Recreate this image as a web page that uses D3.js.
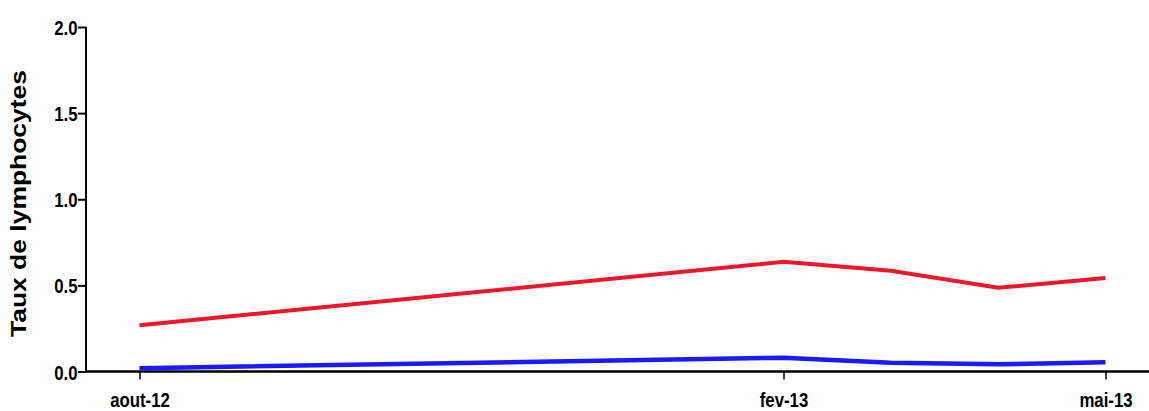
<!DOCTYPE html>
<html><head><meta charset="utf-8">
<script src="https://cdn.jsdelivr.net/npm/d3@7"></script>
<style>
body{margin:0;background:#fff;}
svg{display:block;}
.tick text{font-family:"Liberation Sans",Arial,sans-serif;font-weight:bold;font-size:21px;fill:#000;}
</style></head>
<body>
<svg id="c" width="1149" height="411"></svg>
<script>
const months = ["aout-12","fev-13","mars-13","avr-13","mai-13"];
const monthIndex = [0,6,7,8,9];
const redValues = [0.268,0.637,0.585,0.486,0.543];
const blueValues = [0.019,0.080,0.051,0.042,0.053];
const xTickIndex = [0,6,9];
const xTickLabels = ["aout-12","fev-13","mai-13"];
const yTicks = [0,0.5,1.0,1.5,2.0];

const svg = d3.select("#c");
const x = d3.scaleLinear().domain([0,9]).range([139.5,1105.5]);
const y = d3.scaleLinear().domain([0,2]).range([371.5,27]);
const sx = 0.8;

// x axis
const xAxis = svg.append("g").attr("transform","translate(0,371.5)")
  .call(d3.axisBottom(x).tickValues(xTickIndex).tickFormat((d,i)=>xTickLabels[i]).tickSize(8).tickSizeOuter(0).tickPadding(4));
xAxis.select(".domain").attr("d","M86,0H1149").attr("stroke","#000").attr("stroke-width",2.5);
xAxis.selectAll(".tick line").attr("stroke","#000").attr("stroke-width",1.5);
xAxis.selectAll(".tick text").attr("transform",`scale(${sx},1)`).attr("y",21);

// y axis
const yAxis = svg.append("g").attr("transform","translate(86,0)")
  .call(d3.axisLeft(y).tickValues(yTicks).tickFormat(d3.format(".1f")).tickSize(8).tickSizeOuter(0).tickPadding(1));
yAxis.select(".domain").attr("d","M0,27V372.5").attr("stroke","#000").attr("stroke-width",2);
yAxis.selectAll(".tick line").attr("stroke","#000").attr("stroke-width",2);
yAxis.selectAll(".tick text").attr("x",-8.5/sx).attr("transform",`scale(${sx},1)`).attr("dy","0.36em");

// y title
svg.append("text")
  .attr("transform","translate(26,203.5) rotate(-90)")
  .attr("text-anchor","middle")
  .style("font-family","'Liberation Sans',Arial,sans-serif")
  .style("font-weight","bold")
  .style("font-size","21.5px")
  .attr("textLength",267)
  .attr("lengthAdjust","spacingAndGlyphs")
  .text("Taux de lymphocytes");

const line = d3.line().x(d=>x(d[0])).y(d=>y(d[1]));
svg.append("path").datum(monthIndex.map((m,i)=>[m,redValues[i]]))
  .attr("d",line).attr("fill","none").attr("stroke","#f0162a").attr("stroke-width",4);
svg.append("path").datum(monthIndex.map((m,i)=>[m,blueValues[i]]))
  .attr("d",line).attr("fill","none").attr("stroke","#1a1aff").attr("stroke-width",4.5);
</script>
</body></html>
